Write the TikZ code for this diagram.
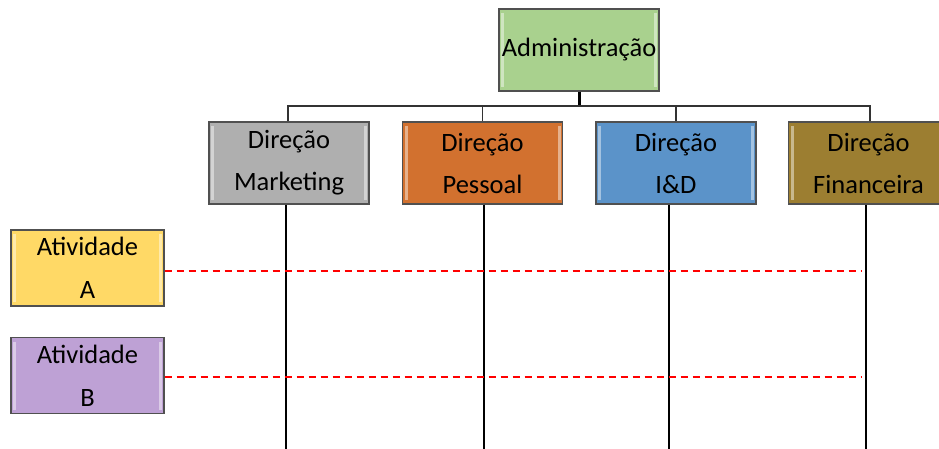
\documentclass[tikz,border=0pt]{standalone}
\usepackage{fontspec}
\setmainfont{Carlito}
\usetikzlibrary{calc}

\definecolor{admgreen}{HTML}{A9D18E}
\definecolor{mktgray}{HTML}{AFAFAF}
\definecolor{pesorange}{HTML}{D2712F}
\definecolor{idblue}{HTML}{5B93C9}
\definecolor{finolive}{HTML}{9C7E31}
\definecolor{atyellow}{HTML}{FFD966}
\definecolor{atpurple}{HTML}{BEA1D5}
\definecolor{edge}{HTML}{505050}

\tikzset{
  box/.style={draw=edge, line width=1.2pt, minimum width=160pt, minimum height=82pt,
    align=center, inner sep=0pt,
    font=\fontsize{26.5}{42}\selectfont,
    path picture={
      \draw[white, opacity=0.45, line width=3pt]
        ($(path picture bounding box.north west)+(3.5pt,-4pt)$) --
        ($(path picture bounding box.south west)+(3.5pt,4pt)$)
        ($(path picture bounding box.north east)+(-3.5pt,-4pt)$) --
        ($(path picture bounding box.south east)+(-3.5pt,4pt)$);
    }},
  actbox/.style={box, minimum width=153pt, minimum height=76pt, font=\fontsize{26.5}{43}\selectfont},
  bus/.style={draw=black!80, line width=1.6pt},
  stem/.style={draw=black, line width=1.6pt},
  link/.style={draw=red, line width=1.5pt, dash pattern=on 7pt off 5pt}
}

\begin{document}
\begin{tikzpicture}[x=1pt, y=-1pt]
  \useasboundingbox (0,0) rectangle (939,449);
  \clip (0,0) rectangle (939,449);

  % top of the hierarchy
  \node[box, fill=admgreen] (adm) at (579,50) {Administração};

  % directorates
  \node[box, fill=mktgray]   (mkt) at (289,163) {Direção\\Marketing};
  \node[box, fill=pesorange] (pes) at (482.5,163) {Direção\\Pessoal};
  \node[box, fill=idblue]    (iad) at (676,163) {Direção\\I\&D};
  \node[box, fill=finolive]  (fin) at (868.5,163) {Direção\\Financeira};

  % activities
  \node[actbox, fill=atyellow] (atA) at (87.5,268) {Atividade\\A};
  \node[actbox, fill=atpurple] (atB) at (87.5,375.5) {Atividade\\B};

  % bus from the administration to each directorate
  \coordinate (busY) at (0,106);
  \draw[draw=black, line width=3pt] (adm.south) -- (adm.south |- busY);
  \draw[bus] (mkt.north -| 288,0) |- (busY -| 870,0) -- (fin.north -| 870,0);
  \draw[bus] (pes.north) -- (pes.north |- busY);
  \draw[bus] (iad.north) -- (iad.north |- busY);

  % vertical lines under the directorates
  \coordinate (mktEnd) at (286,449);
  \coordinate (pesEnd) at (484,449);
  \coordinate (iadEnd) at (669,449);
  \coordinate (finEnd) at (866,449);
  \draw[stem] (mkt.south -| mktEnd) -- (mktEnd);
  \draw[stem] (pes.south -| pesEnd) -- (pesEnd);
  \draw[stem] (iad.south -| iadEnd) -- (iadEnd);
  \draw[stem] (fin.south -| finEnd) -- (finEnd);

  % dashed links from the activities across the directorates
  \coordinate (endA) at (862,271);
  \coordinate (endB) at (862,377);
  \draw[link] (atA.east |- endA) -- (endA);
  \draw[link] (atB.east |- endB) -- (endB);
\end{tikzpicture}
\end{document}
